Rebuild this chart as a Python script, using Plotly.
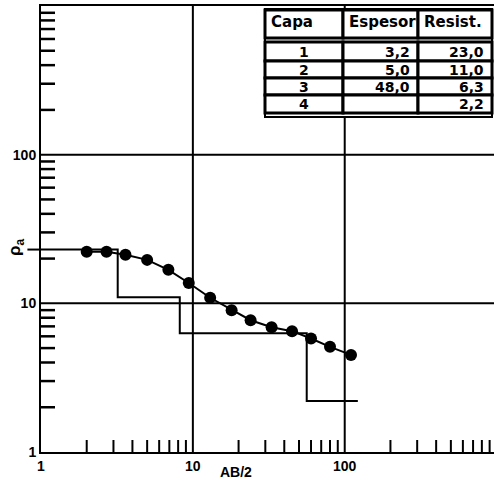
import plotly.graph_objects as go
import numpy as np

# Field data (AB/2, apparent resistivity)
ab2 = [2.0, 2.7, 3.6, 5.0, 6.9, 9.4, 13.0, 18.0, 24.0, 33.0, 45.0, 60.0, 80.0, 110.0]
rho_a = [22.2, 22.2, 21.2, 19.6, 16.8, 13.7, 10.9, 9.0, 7.7, 6.9, 6.5, 5.8, 5.1, 4.5]

# Layer model (table)
table_header = ["Capa", "Espesor", "Resist."]
capa = [1, 2, 3, 4]
espesor = [3.2, 5.0, 48.0, None]
resist = [23.0, 11.0, 6.3, 2.2]

x_start = 1.0
x_end = 122.0

label_vals = [1, 10, 100]
grid_vals = [10, 100]
minor_vals = [m * 10 ** k for k in range(3) for m in range(2, 10)]

# Build step model from table
depths = np.cumsum([e for e in espesor if e is not None]).tolist()
step_x = [x_start]
step_y = [resist[0]]
for i, d in enumerate(depths):
    step_x += [d, d]
    step_y += [resist[i], resist[i + 1]]
step_x.append(x_end)
step_y.append(resist[-1])

def fmt(v):
    return "" if v is None else f"{v:.1f}".replace(".", ",")

FONT = "Liberation Sans"
TFONT = "DejaVu Sans"

W, H = 494, 484
ML, MR, MT, MB = 41, 0, 6, 32
PW, PH = W - ML - MR, H - MT - MB

def px(xp):
    return (xp - ML) / PW

def py(yp):
    return (H - MB - yp) / PH

fig = go.Figure()

fig.add_trace(go.Scatter(x=step_x, y=step_y, mode="lines",
                         line=dict(color="black", width=2), showlegend=False))
fig.add_trace(go.Scatter(x=ab2, y=rho_a, mode="lines+markers",
                         line=dict(color="black", width=2),
                         marker=dict(color="black", size=12), showlegend=False))

common = dict(type="log", showline=True, linecolor="black", linewidth=2,
              showgrid=False, zeroline=False, tickmode="array",
              tickvals=label_vals, ticktext=[str(v) for v in label_vals],
              ticks="",
              tickfont=dict(family=FONT, size=14, color="black", weight="bold"))
fig.update_xaxes(range=[0, 2.983], mirror=True, **common)
fig.update_yaxes(range=[0, 3], mirror=False, **common)

# decade grid lines
for g in grid_vals:
    fig.add_shape(type="line", xref="x", yref="paper", x0=g, x1=g, y0=0, y1=1,
                  layer="below", line=dict(color="black", width=2))
    fig.add_shape(type="line", xref="paper", yref="y", x0=0, x1=1, y0=g, y1=g,
                  layer="below", line=dict(color="black", width=2))

# inside minor tick marks
for v in minor_vals:
    fig.add_shape(type="line", xref="x", yref="paper", x0=v, x1=v, y0=0, y1=12 / PH,
                  line=dict(color="black", width=2))
    fig.add_shape(type="line", xref="paper", yref="y", x0=0, x1=14 / PW, y0=v, y1=v,
                  line=dict(color="black", width=2.5))

fig.add_shape(type="line", xref="paper", yref="y", x0=-0.03, x1=0,
              y0=resist[0], y1=resist[0], line=dict(color="black", width=2))

# ---- layer table (drawn in paper space) ----
col_edges = [265, 343, 418, 492]
header_rows = (10, 38)
body_rows = [(42, 61), (61, 78), (78, 95), (95, 113)]

fig.add_shape(type="rect", xref="paper", yref="paper",
              x0=px(col_edges[0]), x1=px(col_edges[-1]), y0=py(117), y1=py(9),
              fillcolor="white", line=dict(color="black", width=2))
for (r0, r1) in [header_rows] + body_rows:
    for c in range(3):
        fig.add_shape(type="rect", xref="paper", yref="paper",
                      x0=px(col_edges[c]), x1=px(col_edges[c + 1]),
                      y0=py(r1), y1=py(r0), fillcolor="white",
                      line=dict(color="black", width=3))

hdr_font = dict(family=TFONT, size=15, color="black", weight="bold")
for c, txt in enumerate(table_header):
    fig.add_annotation(xref="paper", yref="paper", x=px(col_edges[c] + 4),
                       y=py(sum(header_rows) / 2 - 2), text=txt, showarrow=False,
                       xanchor="left", yanchor="middle", font=hdr_font)

cols = [[str(c) for c in capa], [fmt(v) for v in espesor], [fmt(v) for v in resist]]
for c, col in enumerate(cols):
    for r, txt in enumerate(col):
        if not txt:
            continue
        yc = py(sum(body_rows[r]) / 2)
        if c == 0:
            xa, xpos = "center", px((col_edges[0] + col_edges[1]) / 2)
        else:
            xa, xpos = "right", px(col_edges[c + 1] - 6)
        fig.add_annotation(xref="paper", yref="paper", x=xpos, y=yc, text=txt,
                           showarrow=False, xanchor=xa, yanchor="middle",
                           font=dict(family=TFONT, size=14, color="black", weight="bold"))

# axis titles
fig.add_annotation(xref="paper", yref="paper", x=px(236), y=py(472), text="AB/2",
                   showarrow=False, xanchor="center", yanchor="middle",
                   font=dict(family=FONT, size=14, color="black", weight="bold"))
fig.add_annotation(xref="paper", yref="paper", x=px(16), y=py(247), text="ρ<sub>a</sub>",
                   textangle=-90, showarrow=False, xanchor="center", yanchor="middle",
                   font=dict(family=FONT, size=17, color="black", weight="bold"))

fig.update_layout(width=W, height=H, margin=dict(l=ML, r=MR, t=MT, b=MB),
                  paper_bgcolor="white", plot_bgcolor="white", showlegend=False)

fig.write_html("out.html")
